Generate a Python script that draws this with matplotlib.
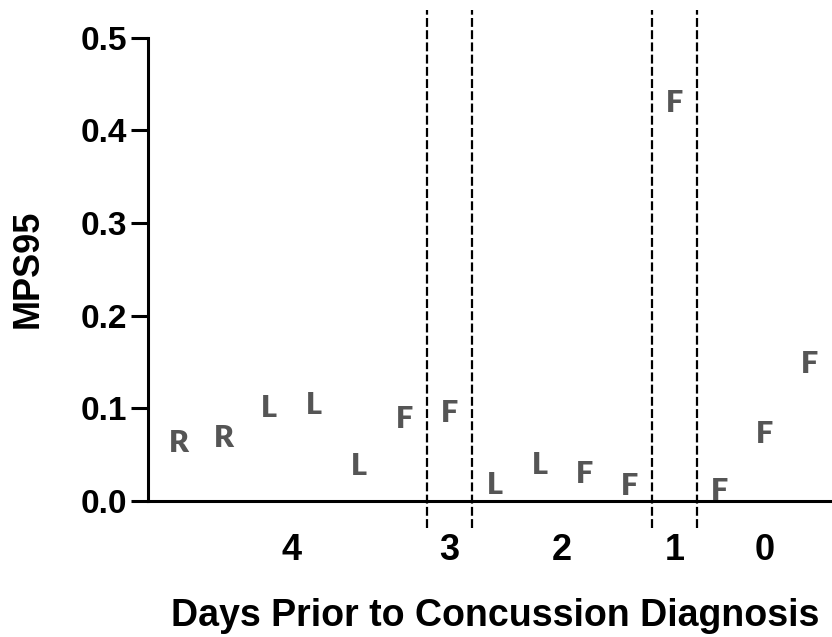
import numpy as np
import matplotlib.pyplot as plt

# one letter per impact, in time order
letters = ['R', 'R', 'L', 'L', 'L', 'F',
           'F',
           'L', 'L', 'F', 'F',
           'F',
           'F', 'F', 'F']
mps95 = [0.063, 0.068, 0.100, 0.104, 0.038, 0.089,
         0.095,
         0.017, 0.039, 0.029, 0.016,
         0.430,
         0.011, 0.072, 0.148]
days = ['4', '3', '2', '1', '0']
group_sizes = [6, 1, 4, 1, 3]

plt.rcParams['font.family'] = ['Liberation Sans', 'DejaVu Sans']

fig = plt.figure(figsize=(8.32, 6.37), dpi=100)
ax = fig.add_axes([148/832, 1 - 528/637, 1 - 148/832, 518/637])

x = np.arange(len(mps95))
for xi, yi, s in zip(x, mps95, letters):
    ax.text(xi, yi, s, ha='center', va='center', fontsize=22,
            fontweight='heavy', family=['Lato', 'DejaVu Sans'], color='#555555')

# group boundaries and centres
edges = np.cumsum(group_sizes)
starts = edges - np.array(group_sizes)
centres = (starts + edges - 1) / 2
for b in edges[:-1] - 0.5:
    ax.axvline(b, color='black', ls=(0, (4, 1.5)), lw=1.6)

ax.set_xlim(-0.688, 14.49)
ax.set_ylim(-0.029, 0.53)

ax.spines['top'].set_visible(False)
ax.spines['right'].set_visible(False)
ax.spines['bottom'].set_position(('data', 0))
ax.spines['left'].set_bounds(0, 0.5)
for sp in ('left', 'bottom'):
    ax.spines[sp].set_linewidth(2.2)

ax.set_yticks([0, 0.1, 0.2, 0.3, 0.4, 0.5])
ax.set_yticklabels(['0.0', '0.1', '0.2', '0.3', '0.4', '0.5'])
ax.tick_params(axis='y', length=12, width=2.2, pad=3, labelsize=24)
for t in ax.get_yticklabels():
    t.set_fontweight('bold')

ax.set_xticks(centres)
ax.set_xticklabels(days)
ax.tick_params(axis='x', length=0, pad=23, labelsize=26)
for t in ax.get_xticklabels():
    t.set_fontweight('bold')

ax.set_xlabel('Days Prior to Concussion Diagnosis', fontsize=27, fontweight='bold')
ax.xaxis.set_label_coords(0.507, -0.135)
ax.set_ylabel('MPS95', fontsize=26, fontweight='bold')
ax.yaxis.set_label_coords(-0.150, 0.5)

fig.savefig('out.png', dpi=100)
